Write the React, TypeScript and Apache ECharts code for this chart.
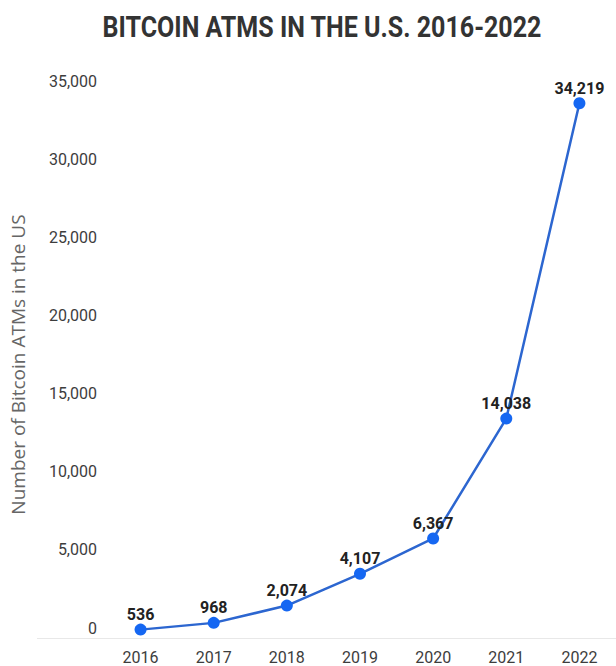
import React, { useEffect, useRef } from "react";
import * as echarts from "echarts";

const TITLE = "BITCOIN ATMS IN THE U.S. 2016-2022";
const Y_NAME = "Number of Bitcoin ATMs in the US";
const YEARS = ["2016", "2017", "2018", "2019", "2020", "2021", "2022"];
const ATMS = [536, 968, 2074, 4107, 6367, 14038, 34219];
const Y_MIN = 0;
const Y_MAX = 35000;
const Y_STEP = 5000;

export default function App() {
  const ref = useRef<HTMLDivElement>(null);
  useEffect(() => {
    if (!ref.current) return;
    const chart = echarts.init(ref.current, null, { renderer: "svg" });
    const fmt = (v: number) => v.toLocaleString("en-US");
    chart.setOption({
      animation: false,
      backgroundColor: "#ffffff",
      grid: { left: 95, width: 532, top: 91, bottom: 28 },
      graphic: [
        {
          type: "text",
          x: 322,
          y: 27,
          scaleX: 0.835,
          style: {
            text: TITLE,
            font: "bold 30px Roboto",
            fill: "#333333",
            align: "center",
            verticalAlign: "middle",
          },
        },
        {
          type: "line",
          z: -1,
          shape: { x1: 37, y1: 638.5, x2: 616, y2: 638.5 },
          style: { stroke: "#e8e8e8", lineWidth: 1 },
        },
      ],
      xAxis: {
        type: "category",
        data: YEARS,
        boundaryGap: true,
        axisLine: { show: false },
        axisTick: { show: false },
        axisLabel: {
          margin: 11,
          fontFamily: "Roboto",
          fontSize: 16,
          color: "#3d3d3d",
        },
      },
      yAxis: {
        type: "value",
        min: Y_MIN,
        max: Y_MAX,
        interval: Y_STEP,
        name: Y_NAME,
        nameLocation: "middle",
        nameGap: 77,
        nameTextStyle: {
          fontFamily: "Open Sans",
          fontSize: 19,
          color: "#666666",
        },
        axisLine: { show: false },
        axisTick: { show: false },
        splitLine: { show: false },
        axisLabel: {
          margin: 7,
          fontFamily: "Roboto",
          fontSize: 16,
          color: "#3d3d3d",
          verticalAlign: "bottom",
          lineHeight: 16,
          padding: [0, 0, 2, 0],
          formatter: (v: number) => fmt(v),
        },
      },
      series: [
        {
          type: "line",
          data: ATMS,
          symbol: "circle",
          symbolSize: 12,
          lineStyle: { color: "#2c66d0", width: 2.5 },
          itemStyle: { color: "#1567f2" },
          label: {
            show: true,
            position: "top",
            distance: 1,
            fontFamily: "Roboto",
            fontWeight: "bold",
            fontSize: 16,
            color: "#222222",
            formatter: (p: any) => fmt(p.value),
          },
        },
      ],
    });
    return () => chart.dispose();
  }, []);
  return (
    <div
      ref={ref}
      style={{ position: "fixed", left: 0, top: 0, width: 616, height: 666 }}
    />
  );
}
